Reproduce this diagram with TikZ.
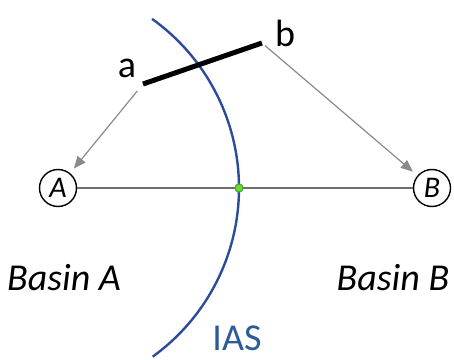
\documentclass[tikz,border=0pt]{standalone}
\usepackage{fontspec}
\setmainfont{Carlito}
\usetikzlibrary{arrows.meta}
\definecolor{iasblue}{HTML}{2B4C9B}
\definecolor{iastext}{HTML}{2E5A9A}
\definecolor{axisgray}{HTML}{6E6E6E}
\definecolor{arrgray}{HTML}{8A8A8A}
\definecolor{dotgreen}{HTML}{7CD23C}
\definecolor{dotedge}{HTML}{2DB52D}
\begin{document}
\begin{tikzpicture}[x=1pt,y=1pt,
  basin/.style={circle,draw=black,line width=1.4pt,minimum size=37pt,inner sep=0pt,font=\fontsize{30}{30}\selectfont\itshape},
  lbl/.style={font=\fontsize{38}{38}\selectfont},
  gray arrow/.style={draw=arrgray,line width=1.2pt,-{Triangle[length=12pt,width=10pt]}}]
\useasboundingbox (0,0) rectangle (454,359);
% IAS arc
\draw[iasblue,line width=2.4pt] (31,171) ++(54.4:208) arc[start angle=54.4,end angle=-54.2,radius=208];
% basins
\node[basin] (A) at (58,171) {A};
\node[basin] (B) at (432,171) {B};
\draw[axisgray,line width=1.5pt] (A) -- (B);
\node[circle,fill=dotgreen,draw=dotedge,line width=1.2pt,minimum size=8pt,inner sep=0pt] (g) at (239,171) {};
% segment
\coordinate (ea) at (143,275);
\coordinate (eb) at (262,316);
\draw[black,line width=5pt] (ea) -- (eb);
\node[lbl] (la) at (127,291) {a};
\node[lbl] (lb) at (285,326) {b};
% arrows
\draw[gray arrow,shorten <=9pt,shorten >=6pt] (ea) -- (A);
\draw[gray arrow,shorten <=4pt,shorten >=6pt] (eb) -- (B);
% labels
\node[lbl,font=\fontsize{38}{38}\selectfont\itshape] (ba) at (64,81) {Basin A};
\node[lbl,font=\fontsize{38}{38}\selectfont\itshape] (bb) at (393,81) {Basin B};
\node[lbl,text=iastext,anchor=base,inner sep=0pt] (ias) at (237,9) {IAS};
\end{tikzpicture}
\end{document}
